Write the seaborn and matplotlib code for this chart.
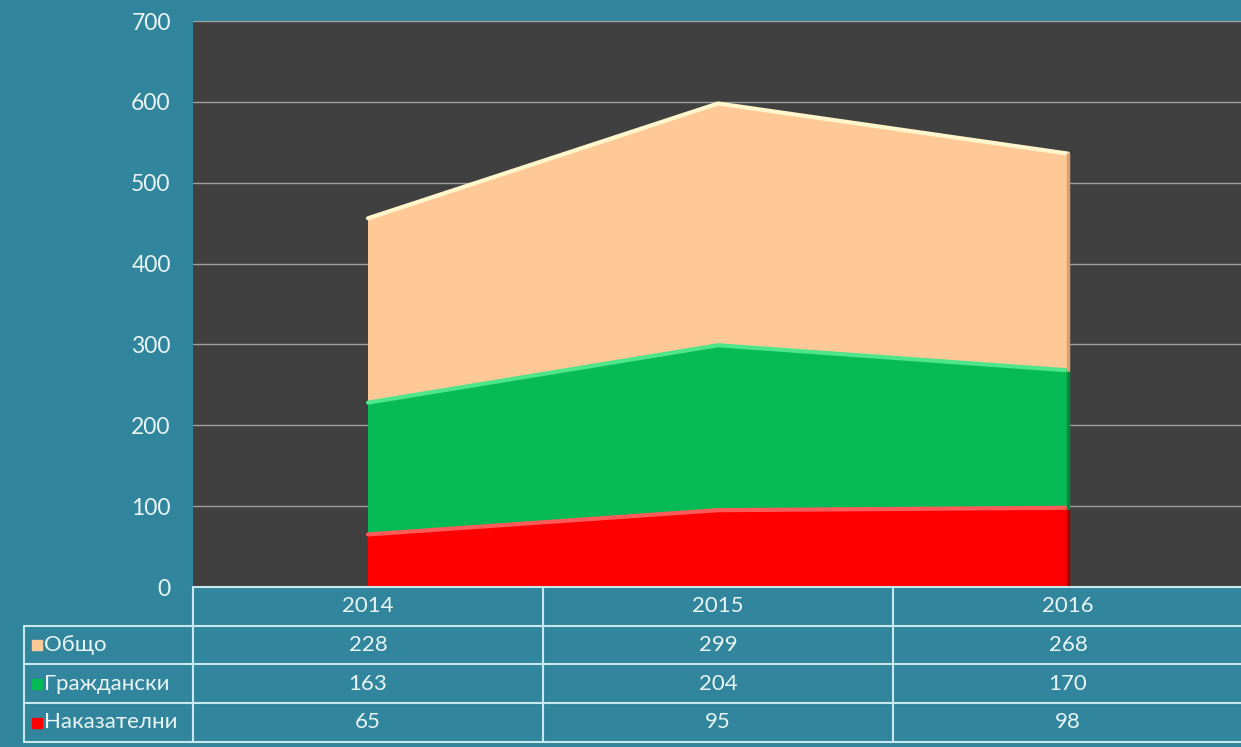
import numpy as np
import pandas as pd
import seaborn as sns
import matplotlib.pyplot as plt
from matplotlib.patches import Rectangle

# data
years = ["2014", "2015", "2016"]
nakazatelni = [65, 95, 98]
grazhdanski = [163, 204, 170]
obshto = [228, 299, 268]
series = ["Наказателни", "Граждански", "Общо"]          # bottom -> top
table_order = ["Общо", "Граждански", "Наказателни"]     # table rows
values = {"Наказателни": nakazatelni, "Граждански": grazhdanski, "Общо": obshto}

fill = {"Наказателни": "#FF0000", "Граждански": "#06BA55", "Общо": "#FFC997"}
shine = {"Наказателни": "#FF5A5A", "Граждански": "#4FE58A", "Общо": "#FFF6CC"}
shade = {"Наказателни": "#A80000", "Граждански": "#028A3C", "Общо": "#D9A070"}

BG = "#31859C"
PLOT_BG = "#404040"
TXT = "#EAF5F5"
LINE = "#C8E8EE"

W, H = 1241, 747
sns.set_style("dark")
plt.rcParams["font.family"] = ["Lato", "DejaVu Sans"]
plt.rcParams["patch.force_edgecolor"] = False

fig = plt.figure(figsize=(W / 100, H / 100), dpi=100, facecolor=BG)
L, R, T, B = 193, 1243, 21, 587
ax = fig.add_axes([L / W, 1 - B / H, (R - L) / W, (B - T) / H])
ax.set_facecolor(PLOT_BG)

x = np.arange(len(years))
stack = np.array([values[s] for s in series], dtype=float)
ax.stackplot(x, stack, colors=[fill[s] for s in series],
             edgecolor="none", linewidth=0, zorder=2)

cum = stack.cumsum(axis=0)
df = pd.DataFrame({
    "x": np.tile(x, len(series)),
    "y": cum.ravel(),
    "s": np.repeat(series, len(x)),
})
sns.lineplot(data=df, x="x", y="y", hue="s", palette=shine, lw=3,
             legend=False, ax=ax, zorder=3)
# darker right edge of each band
for i, s in enumerate(series):
    lo = cum[i - 1, -1] if i > 0 else 0
    ax.plot([x[-1], x[-1]], [lo, cum[i, -1]], color=shade[s], lw=2.5, zorder=3)

ax.set_xlim(-0.5, len(years) - 0.5)
ax.set_ylim(0, 700)
ax.set_yticks(range(0, 701, 100))
ax.set_xticks([])
ax.grid(axis="y", color="#A0A0A0", lw=1, zorder=1)
ax.grid(axis="x", visible=False)
ax.tick_params(axis="y", length=0, pad=16, labelsize=16.5, labelcolor=TXT)
ax.set_xlabel("")
ax.set_ylabel("")
for sp in ax.spines.values():
    sp.set_visible(False)

# data table below the plot
ov = fig.add_axes([0, 0, 1, 1], zorder=5)
ov.set_xlim(0, W)
ov.set_ylim(H, 0)
ov.axis("off")

rows_y = [587, 626, 664, 703, 742]
col_w = (R - L) / len(years)
cols_x = [24, L] + [L + col_w * (i + 1) for i in range(len(years) - 1)]

ov.plot([L, W], [rows_y[0]] * 2, color=LINE, lw=1.5)
for yy in rows_y[1:]:
    ov.plot([cols_x[0], W], [yy, yy], color=LINE, lw=1.5)
ov.plot([cols_x[0]] * 2, [rows_y[1], rows_y[-1]], color=LINE, lw=1.5)
for xx in cols_x[1:]:
    ov.plot([xx, xx], [rows_y[0], rows_y[-1]], color=LINE, lw=1.5)

centers = [L + col_w * (i + 0.5) for i in range(len(years))]
hy = (rows_y[0] + rows_y[1]) / 2
for cx, yr in zip(centers, years):
    ov.text(cx, hy, yr, ha="center", va="center", color=TXT, fontsize=16)

for r, s in enumerate(table_order):
    cy = (rows_y[r + 1] + rows_y[r + 2]) / 2
    ov.add_patch(Rectangle((32, cy - 5), 10, 10, color=fill[s]))
    ov.text(44, cy, s, ha="left", va="center", color=TXT, fontsize=16)
    for cx, v in zip(centers, values[s]):
        ov.text(cx, cy, str(v), ha="center", va="center", color=TXT, fontsize=16)

fig.savefig("out.png", dpi=100, facecolor=BG)
